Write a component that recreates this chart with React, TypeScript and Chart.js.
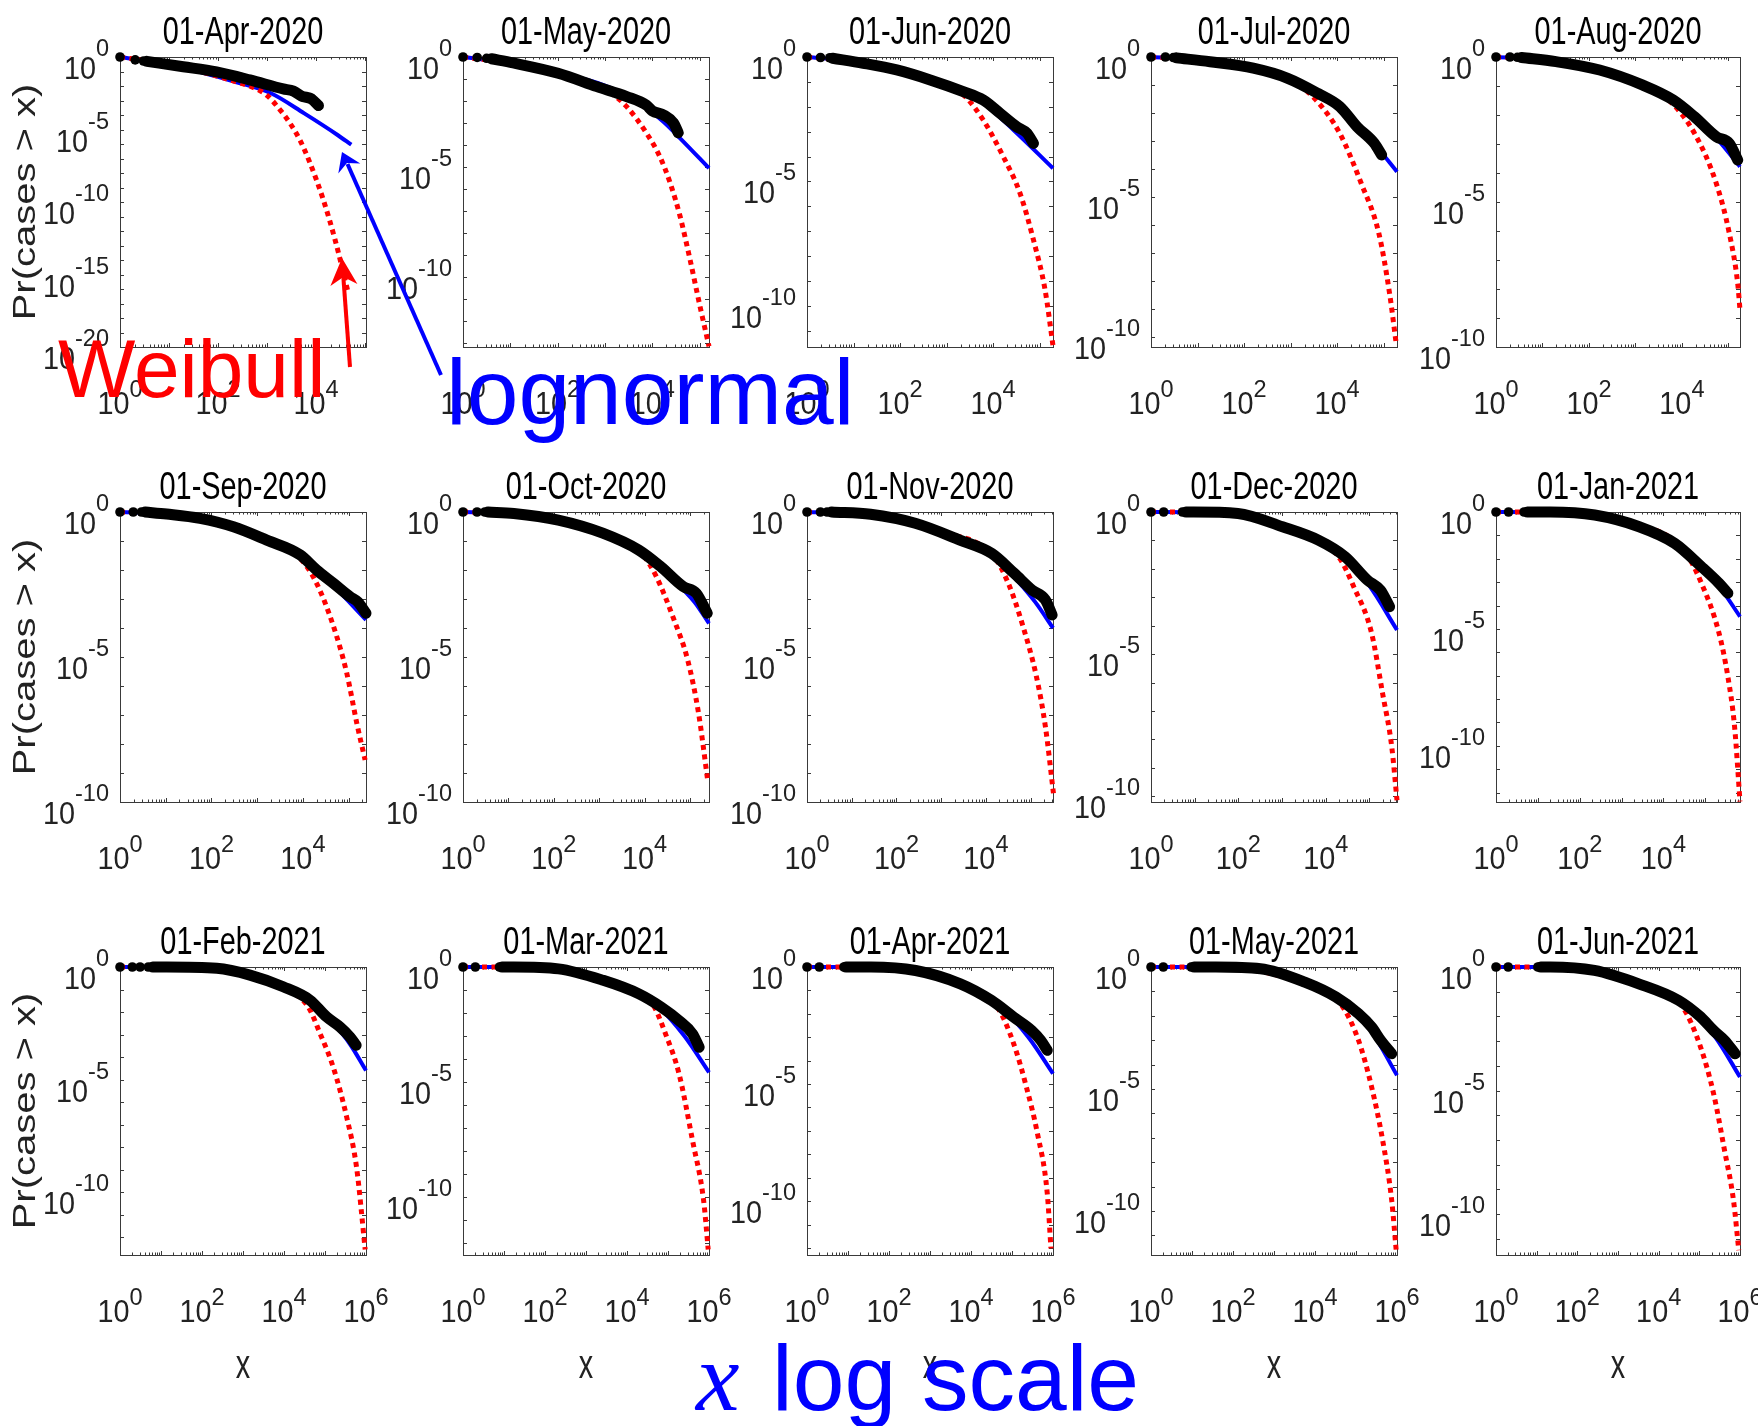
import React, { useEffect, useRef } from "react";
import { Chart, registerables } from "chart.js";

Chart.register(...registerables);

// ---------- DATA (all pairs are [log10 x, log10 Pr(cases > x)]) ----------
const panelTitles = [
  "01-Apr-2020", "01-May-2020", "01-Jun-2020", "01-Jul-2020", "01-Aug-2020",
  "01-Sep-2020", "01-Oct-2020", "01-Nov-2020", "01-Dec-2020", "01-Jan-2021",
  "01-Feb-2021", "01-Mar-2021", "01-Apr-2021", "01-May-2021", "01-Jun-2021",
];

const xMaxExponent = [5.02, 5.2, 5.29, 5.29, 5.25, 5.38, 5.42, 5.5, 5.63, 5.83, 6, 6, 6, 6, 6];
const yMinExponent = [-20, -13.2, -11.65, -10.36, -10, -10, -10, -10, -10.2, -12.4, -12.8, -12.5, -12.3, -11.8, -11.65];

const yTickExponents = [
  [0, -5, -10, -15, -20], [0, -5, -10], [0, -5, -10], [0, -5, -10], [0, -5, -10],
  [0, -5, -10], [0, -5, -10], [0, -5, -10], [0, -5, -10], [0, -5, -10],
  [0, -5, -10], [0, -5, -10], [0, -5, -10], [0, -5, -10], [0, -5, -10],
];
const xTickExponents = [
  [0, 2, 4], [0, 2, 4], [0, 2, 4], [0, 2, 4], [0, 2, 4],
  [0, 2, 4], [0, 2, 4], [0, 2, 4], [0, 2, 4], [0, 2, 4],
  [0, 2, 4, 6], [0, 2, 4, 6], [0, 2, 4, 6], [0, 2, 4, 6], [0, 2, 4, 6],
];

// Discrete empirical markers (small x and tail)
const empiricalDots: number[][][] = [
  [[0, 0], [0.31, -0.2], [0.48, -0.28], [3.71, -2.74], [3.91, -2.85], [4.05, -3.38]],
  [[0, 0], [0.3, -0.02], [0.5, -0.06], [4.25, -2.65], [4.45, -3.0], [4.55, -3.45]],
  [[0, 0], [0.29, -0.02], [0.49, -0.03], [4.51, -2.8], [4.73, -3.06], [4.87, -3.47]],
  [[0, 0], [0.31, 0], [0.48, -0.02], [4.8, -3.08], [4.96, -3.5]],
  [[0, 0], [0.3, 0], [0.46, -0.01], [5.02, -2.98], [5.2, -3.55]],
  [[0, 0], [0.29, 0], [0.47, 0], [5.03, -2.92], [5.38, -3.49]],
  [[0, 0], [0.31, 0], [0.48, 0], [5.14, -2.8], [5.38, -3.49]],
  [[0, 0], [0.3, 0], [0.45, 0], [5.33, -3.03], [5.48, -3.55]],
  [[0, 0], [0.29, 0], [0.72, 0], [5.25, -2.75], [5.46, -3.33]],
  [[0, 0], [0.3, 0], [0.67, 0], [5.33, -3.05], [5.54, -3.47]],
  [[0, 0], [0.3, 0], [0.49, 0], [0.69, 0], [5.61, -3.11], [5.76, -3.48]],
  [[0, 0], [0.3, 0], [0.89, 0], [5.6, -2.91], [5.76, -3.49]],
  [[0, 0], [0.3, 0], [0.9, 0], [5.7, -3.13], [5.86, -3.56]],
  [[0, 0], [0.3, 0], [0.98, 0], [5.6, -3.0], [5.87, -3.55]],
  [[0, 0], [0.3, 0], [1.03, 0], [5.62, -2.97], [5.88, -3.51]],
];

// Dense part of the empirical CCDF (overlapping markers)
const empiricalBand: number[][][] = [
  [[0.55, -0.3], [1.29, -0.67], [1.97, -1.03], [2.65, -1.58], [3.33, -2.2], [3.54, -2.35], [3.71, -2.7], [3.91, -2.9], [4.05, -3.35]],
  [[0.6, -0.08], [1.06, -0.27], [2.01, -0.74], [2.83, -1.35], [3.46, -1.8], [3.88, -2.2], [4.0, -2.45], [4.25, -2.65], [4.45, -3.0], [4.55, -3.45]],
  [[0.55, -0.05], [1.21, -0.25], [1.93, -0.52], [2.65, -0.92], [3.36, -1.39], [3.79, -1.73], [4.15, -2.26], [4.51, -2.8], [4.73, -3.06], [4.87, -3.47]],
  [[0.55, -0.03], [1.27, -0.17], [2.2, -0.4], [2.94, -0.76], [3.59, -1.3], [4.06, -1.77], [4.43, -2.49], [4.8, -3.08], [4.96, -3.5]],
  [[0.55, -0.02], [1.29, -0.16], [2.23, -0.45], [3.16, -0.97], [3.81, -1.48], [4.27, -2.06], [4.74, -2.75], [5.02, -2.98], [5.2, -3.55]],
  [[0.55, 0], [1.02, -0.07], [1.75, -0.22], [2.48, -0.51], [3.21, -0.97], [3.94, -1.48], [4.3, -2.0], [4.67, -2.46], [5.03, -2.92], [5.2, -3.1], [5.38, -3.49]],
  [[0.55, 0], [1.12, -0.05], [2.1, -0.28], [3.08, -0.73], [3.87, -1.31], [4.36, -1.89], [4.85, -2.57], [5.14, -2.8], [5.38, -3.49]],
  [[0.55, 0], [1.42, -0.08], [2.42, -0.39], [3.42, -0.97], [4.13, -1.43], [4.63, -2.11], [5.03, -2.69], [5.33, -3.03], [5.48, -3.55]],
  [[0.8, 0], [0.97, 0], [1.99, -0.05], [3.01, -0.52], [3.83, -0.99], [4.44, -1.57], [4.95, -2.39], [5.25, -2.75], [5.46, -3.33]],
  [[0.75, 0], [1.3, 0], [2.36, -0.13], [3.42, -0.63], [4.27, -1.34], [4.91, -2.34], [5.33, -3.05], [5.54, -3.47]],
  [[0.8, 0], [1.14, 0], [2.36, -0.06], [3.17, -0.36], [3.98, -0.88], [4.63, -1.47], [5.04, -2.22], [5.37, -2.67], [5.61, -3.11], [5.76, -3.48]],
  [[0.95, 0], [1.24, 0], [2.33, -0.08], [3.42, -0.58], [4.29, -1.17], [4.84, -1.75], [5.27, -2.33], [5.6, -2.91], [5.76, -3.49]],
  [[0.95, 0], [1.56, 0], [2.65, -0.15], [3.74, -0.72], [4.5, -1.43], [5.04, -2.14], [5.48, -2.71], [5.7, -3.13], [5.86, -3.56]],
  [[1.05, 0], [1.58, 0], [2.67, -0.07], [3.75, -0.62], [4.51, -1.23], [5.06, -1.91], [5.38, -2.46], [5.6, -3.0], [5.87, -3.55]],
  [[1.1, 0], [1.34, 0], [2.42, -0.14], [3.51, -0.68], [4.49, -1.35], [5.03, -2.02], [5.35, -2.57], [5.62, -2.97], [5.88, -3.51]],
];

const lognormalFit: number[][][] = [
  [[0, 0], [0.5, -0.25], [1.29, -0.75], [2.31, -1.68], [3.08, -2.5], [3.76, -3.89], [4.44, -5.38], [4.72, -6.05]],
  [[0, 0], [1, -0.28], [2, -0.72], [3, -1.3], [3.74, -2.1], [4.23, -2.94], [4.59, -3.7], [5.2, -5.06]],
  [[0, 0], [1, -0.18], [2, -0.55], [3, -1.12], [3.79, -1.86], [4.44, -2.93], [5.29, -4.47]],
  [[0, 0], [1, -0.1], [2, -0.35], [3, -0.8], [3.6, -1.3], [4.06, -1.85], [4.5, -2.55], [4.8, -3.1], [5.29, -4.1]],
  [[0, 0], [1, -0.1], [2, -0.38], [3, -0.9], [3.8, -1.5], [4.3, -2.1], [4.8, -2.9], [5.25, -3.78]],
  [[0, 0], [1, -0.06], [2, -0.3], [3, -0.85], [4, -1.6], [4.7, -2.6], [5.38, -3.72]],
  [[0, 0], [1, -0.04], [2, -0.25], [3, -0.7], [3.9, -1.4], [4.6, -2.3], [5.1, -3.1], [5.42, -3.84]],
  [[0, 0], [1, -0.05], [2, -0.25], [3, -0.7], [4, -1.4], [4.6, -2.2], [5.1, -3.1], [5.5, -4.0]],
  [[0, 0], [1, -0.01], [2, -0.1], [3, -0.5], [3.9, -1.1], [4.5, -1.7], [5.0, -2.6], [5.63, -4.15]],
  [[0, 0], [1, -0.01], [2, -0.08], [3, -0.4], [4, -1.1], [4.7, -2.0], [5.3, -3.1], [5.83, -4.47]],
  [[0, 0], [1, 0], [2, -0.03], [3, -0.3], [4, -0.95], [4.7, -1.6], [5.2, -2.5], [5.6, -3.4], [6, -4.6]],
  [[0, 0], [1, 0], [2, -0.03], [3, -0.35], [4, -1.0], [4.8, -1.8], [5.4, -3.0], [6, -4.58]],
  [[0, 0], [1, 0], [2, -0.04], [3, -0.35], [4, -1.0], [4.8, -1.85], [5.4, -3.0], [6, -4.55]],
  [[0, 0], [1, 0], [2, -0.02], [3, -0.3], [4, -0.85], [4.8, -1.6], [5.4, -2.7], [6, -4.44]],
  [[0, 0], [1, 0], [2, -0.03], [3, -0.35], [4, -0.95], [4.8, -1.75], [5.4, -2.85], [6, -4.45]],
];

const weibullFit: number[][][] = [
  [[0, 0], [0.5, -0.25], [1.29, -0.72], [2.31, -1.65], [2.75, -2.15], [2.99, -2.62], [3.27, -3.66], [3.47, -4.57], [3.67, -5.72], [3.88, -7.33], [4.15, -9.86], [4.39, -12.62], [4.66, -16.3]],
  [[0, 0], [1, -0.28], [2, -0.72], [3.18, -1.73], [3.46, -2.26], [3.88, -3.47], [4.16, -4.53], [4.38, -5.74], [4.59, -7.26], [4.8, -9.23], [5.01, -11.35], [5.2, -13.17]],
  [[0, 0], [1, -0.18], [2, -0.55], [3, -1.1], [3.4, -1.59], [3.79, -2.53], [4.22, -4.0], [4.58, -5.47], [4.87, -7.35], [5.12, -9.36], [5.29, -11.6]],
  [[0, 0], [1, -0.1], [2, -0.35], [3, -0.8], [3.55, -1.54], [4.06, -2.73], [4.52, -4.51], [4.9, -6.3], [5.13, -8.44], [5.27, -10.2]],
  [[0, 0], [1, -0.1], [2, -0.38], [3, -0.88], [3.71, -1.48], [4.27, -2.63], [4.74, -4.36], [5.02, -6.08], [5.2, -7.8], [5.25, -8.72]],
  [[0, 0], [1, -0.06], [2, -0.3], [3, -0.83], [3.94, -1.6], [4.3, -2.46], [4.67, -3.95], [4.96, -5.56], [5.18, -7.29], [5.36, -8.55]],
  [[0, 0], [1, -0.04], [2, -0.25], [3, -0.68], [3.96, -1.48], [4.26, -2.23], [4.65, -3.72], [4.95, -5.1], [5.19, -6.94], [5.39, -9.24]],
  [[0, 0], [1, -0.05], [2, -0.25], [3, -0.68], [4.18, -1.54], [4.53, -2.57], [4.83, -3.95], [5.13, -5.68], [5.33, -7.4], [5.51, -9.7]],
  [[0, 0], [1, -0.01], [2, -0.1], [3, -0.5], [4.29, -1.57], [4.64, -2.63], [5.05, -4.27], [5.3, -6.38], [5.51, -8.26], [5.63, -10.14]],
  [[0, 0], [1, -0.01], [2, -0.08], [3, -0.4], [4.48, -1.62], [4.91, -3.05], [5.33, -5.19], [5.54, -7.04], [5.7, -9.17], [5.83, -12.38]],
  [[0, 0], [1, 0], [2, -0.03], [3, -0.3], [4, -0.95], [4.59, -1.77], [4.88, -2.96], [5.2, -4.45], [5.53, -6.68], [5.77, -8.91], [5.98, -12.56]],
  [[0, 0], [1, 0], [2, -0.03], [3, -0.35], [4, -0.98], [4.62, -1.6], [4.94, -2.91], [5.27, -4.65], [5.6, -7.56], [5.87, -10.17], [5.98, -12.28]],
  [[0, 0], [1, 0], [2, -0.04], [3, -0.35], [4, -0.98], [4.64, -1.71], [5.04, -3.27], [5.35, -5.12], [5.62, -7.11], [5.86, -9.67], [5.95, -12.02]],
  [[0, 0], [1, 0], [2, -0.02], [3, -0.3], [4, -0.85], [4.62, -1.5], [5.06, -3.0], [5.38, -4.91], [5.65, -7.1], [5.87, -9.55], [5.98, -11.6]],
  [[0, 0], [1, 0], [2, -0.03], [3, -0.35], [4, -0.95], [4.59, -1.62], [5.03, -3.24], [5.35, -5.12], [5.62, -7.42], [5.84, -9.44], [5.97, -11.46]],
];

const yAxisTitle = "Pr(cases > x)";
const xAxisTitle = "x";

// ---------- LAYOUT / STYLE ----------
const COL_LEFT = [120, 463, 807, 1151, 1496];
const COL_WIDTH = [246, 246, 246, 246, 244];
const ROW_TOP = [57, 512, 967];
const ROW_HEIGHT = [290, 290, 288];
const PAD_L = 120, PAD_T = 57, PAD_R = 34, PAD_B = 140;
const FONT = '"Liberation Sans", Arial, Helvetica, sans-serif';
const AXIS_COLOR = "#3a3a3a";
const TEXT_COLOR = "#222222";

const toPoints = (arr: number[][]) => arr.map(([lx, ly]) => ({ x: Math.pow(10, lx), y: Math.pow(10, ly) }));

function drawText(ctx: CanvasRenderingContext2D, text: string, x: number, y: number, font: string, sx: number, align: string, color: string) {
  ctx.save();
  ctx.font = font;
  const w = ctx.measureText(text).width * sx;
  let x0 = x;
  if (align === "center") x0 = x - w / 2;
  else if (align === "right") x0 = x - w;
  ctx.translate(x0, y);
  ctx.scale(sx, 1);
  ctx.textAlign = "left";
  ctx.textBaseline = "alphabetic";
  ctx.fillStyle = color;
  ctx.fillText(text, 0, 0);
  ctx.restore();
  return w;
}

const BASE_SX = 0.9;
const EXP_SX = 0.98;
function drawPow(ctx: CanvasRenderingContext2D, exp: number, x: number, baseY: number, expY: number, align: string) {
  const baseFont = `32px ${FONT}`;
  const expFont = `24px ${FONT}`;
  const expText = String(exp);
  ctx.save();
  ctx.font = baseFont;
  const wb = ctx.measureText("10").width * BASE_SX;
  ctx.font = expFont;
  const we = ctx.measureText(expText).width * EXP_SX;
  ctx.restore();
  const total = wb + we;
  const x0 = align === "right" ? x - total : x - total / 2;
  drawText(ctx, "10", x0, baseY, baseFont, BASE_SX, "left", TEXT_COLOR);
  drawText(ctx, expText, x0 + wb, expY, expFont, EXP_SX, "left", TEXT_COLOR);
}

function makeAxesPlugin(i: number) {
  const row = Math.floor(i / 5);
  const col = i % 5;
  return {
    id: "matlabAxes",
    beforeDatasetsDraw(chart: any) {
      const { ctx, chartArea: a } = chart;
      const xs = chart.scales.x;
      const ys = chart.scales.y;
      const xMax = Math.pow(10, xMaxExponent[i]);
      ctx.save();
      ctx.strokeStyle = AXIS_COLOR;
      ctx.lineWidth = 1;
      ctx.beginPath();
      for (let k = 0; k <= Math.floor(xMaxExponent[i]); k++) {
        for (let m = 1; m <= 9; m++) {
          const v = m * Math.pow(10, k);
          if (v > xMax * 1.0001) break;
          const px = Math.round(xs.getPixelForValue(v)) + 0.5;
          const len = m === 1 ? 4 : 2.5;
          ctx.moveTo(px, a.bottom);
          ctx.lineTo(px, a.bottom - len);
          ctx.moveTo(px, a.top);
          ctx.lineTo(px, a.top + len);
        }
      }
      for (let k = 0; k >= Math.ceil(yMinExponent[i]); k--) {
        const py = Math.round(ys.getPixelForValue(Math.pow(10, k))) + 0.5;
        ctx.moveTo(a.left, py);
        ctx.lineTo(a.left + 4, py);
        ctx.moveTo(a.right, py);
        ctx.lineTo(a.right - 4, py);
      }
      ctx.stroke();
      ctx.strokeRect(Math.round(a.left) + 0.5, Math.round(a.top) + 0.5, Math.round(a.right - a.left), Math.round(a.bottom - a.top));
      ctx.restore();
    },
    afterDraw(chart: any) {
      const { ctx, chartArea: a } = chart;
      const xs = chart.scales.x;
      const ys = chart.scales.y;
      yTickExponents[i].forEach((e) => {
        const py = ys.getPixelForValue(Math.pow(10, e));
        drawPow(ctx, e, a.left - 11, py + 22, py - 1, "right");
      });
      xTickExponents[i].forEach((e) => {
        const px = xs.getPixelForValue(Math.pow(10, e));
        drawPow(ctx, e, px, a.bottom + 67, a.bottom + 50, "center");
      });
      const cx = (a.left + a.right) / 2;
      drawText(ctx, panelTitles[i], cx, a.top - 13, `38px ${FONT}`, 0.76, "center", "#000000");
      if (col === 0) {
        ctx.save();
        ctx.translate(a.left - 85, (a.top + a.bottom) / 2);
        ctx.rotate(-Math.PI / 2);
        ctx.scale(1, 0.8);
        ctx.font = `40px ${FONT}`;
        ctx.textAlign = "center";
        ctx.textBaseline = "alphabetic";
        ctx.fillStyle = TEXT_COLOR;
        ctx.fillText(yAxisTitle, 0, 0);
        ctx.restore();
      }
      if (row === 2) {
        drawText(ctx, xAxisTitle, cx, a.bottom + 123, `40px ${FONT}`, 0.72, "center", TEXT_COLOR);
      }
    },
  };
}

function Panel({ index }: { index: number }) {
  const ref = useRef<HTMLCanvasElement>(null);
  const row = Math.floor(index / 5);
  const col = index % 5;
  const w = COL_WIDTH[col] + PAD_L + PAD_R;
  const h = ROW_HEIGHT[row] + PAD_T + PAD_B;

  useEffect(() => {
    if (!ref.current) return;
    const chart = new Chart(ref.current, {
      type: "line",
      data: {
        datasets: [
          {
            label: "empirical",
            data: toPoints(empiricalDots[index]),
            showLine: false,
            pointRadius: 4.8,
            pointBackgroundColor: "#000000",
            pointBorderColor: "#000000",
            pointBorderWidth: 0,
            clip: false,
            order: 0,
          } as any,
          {
            label: "empirical (dense)",
            data: toPoints(empiricalBand[index]),
            borderColor: "#000000",
            borderWidth: 11,
            borderCapStyle: "round",
            borderJoinStyle: "round",
            pointRadius: 0,
            cubicInterpolationMode: "monotone",
            fill: false,
            clip: false,
            order: 0,
          } as any,
          {
            label: "Weibull",
            data: toPoints(weibullFit[index]),
            borderColor: "#FF0000",
            borderWidth: 5,
            borderDash: [5, 4.5],
            borderCapStyle: "butt",
            pointRadius: 0,
            cubicInterpolationMode: "monotone",
            fill: false,
            clip: false,
            order: 1,
          } as any,
          {
            label: "lognormal",
            data: toPoints(lognormalFit[index]),
            borderColor: "#0000FF",
            borderWidth: 4,
            pointRadius: 0,
            cubicInterpolationMode: "monotone",
            fill: false,
            clip: false,
            order: 2,
          } as any,
        ],
      },
      options: {
        responsive: false,
        maintainAspectRatio: false,
        animation: false,
        devicePixelRatio: 1,
        events: [],
        layout: { padding: { left: PAD_L, top: PAD_T, right: PAD_R, bottom: PAD_B } },
        plugins: { legend: { display: false }, tooltip: { enabled: false }, title: { display: false } },
        scales: {
          x: { type: "logarithmic", display: false, min: 1, max: Math.pow(10, xMaxExponent[index]) },
          y: { type: "logarithmic", display: false, min: Math.pow(10, yMinExponent[index]), max: 1 },
        },
      } as any,
      plugins: [makeAxesPlugin(index) as any],
    });
    return () => chart.destroy();
  }, [index]);

  return (
    <canvas
      ref={ref}
      width={w}
      height={h}
      style={{ position: "absolute", left: COL_LEFT[col] - PAD_L, top: ROW_TOP[row] - PAD_T, width: w, height: h }}
    />
  );
}

export default function App() {
  const idx = panelTitles.map((_, i) => i);
  return (
    <div style={{ position: "absolute", left: 0, top: 0, width: 1758, height: 1426, background: "#ffffff" }}>
      {idx.map((i) => (
        <Panel key={i} index={i} />
      ))}
      <svg width={1758} height={1426} style={{ position: "absolute", left: 0, top: 0, pointerEvents: "none" }}>
        <text x={58} y={397} fill="#FF0000" fontFamily={FONT} fontSize={82}>Weibull</text>
        <line x1={350} y1={367} x2={343.4} y2={278} stroke="#FF0000" strokeWidth={4} />
        <polygon points="342,258 357.4,284 343.4,277 330.4,286" fill="#FF0000" />
        <text x={446} y={424} fill="#0000FF" fontFamily={FONT} fontSize={93}>lognormal</text>
        <line x1={441} y1={375} x2={347.5} y2={164} stroke="#0000FF" strokeWidth={4} />
        <polygon points="342,152 360.3,163.6 346.9,163 338.3,173.4" fill="#0000FF" />
        <text x={696} y={1410} fill="#0000FF" fontFamily='"Liberation Serif", "Times New Roman", serif' fontStyle="italic" fontSize={98}>x</text>
        <text x={772} y={1410} fill="#0000FF" fontFamily={FONT} fontSize={93}>log scale</text>
      </svg>
    </div>
  );
}
